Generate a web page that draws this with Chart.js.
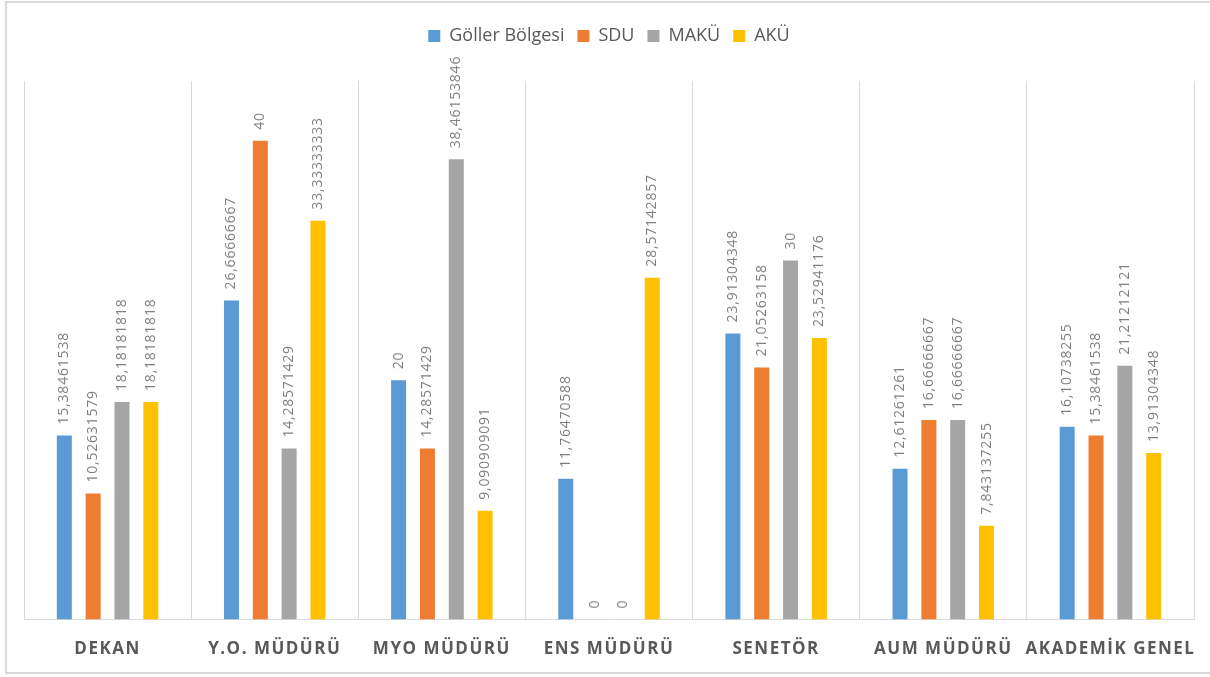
<!DOCTYPE html>
<html>
<head>
<meta charset="utf-8">
<script src="https://cdn.jsdelivr.net/npm/chart.js@4.4.1/dist/chart.umd.min.js"></script>
<style>
  html, body { margin: 0; padding: 0; background: #ffffff; overflow: hidden; }
  #wrap { position: relative; width: 1210px; height: 677px; }
  #frame { position: absolute; left: 5px; top: 1px; width: 1230px; height: 673px; border: 2px solid #d9d9d9; box-sizing: border-box; pointer-events: none; }
</style>
</head>
<body>
<div id="wrap">
  <canvas id="c" width="1210" height="677"></canvas>
  <div id="frame"></div>
</div>
<script>
const categories = ['DEKAN', 'Y.O. MÜDÜRÜ', 'MYO MÜDÜRÜ', 'ENS MÜDÜRÜ', 'SENETÖR', 'AUM MÜDÜRÜ', 'AKADEMİK GENEL'];
const seriesNames = ['Göller Bölgesi', 'SDU', 'MAKÜ', 'AKÜ'];
const gollerBolgesi = [15.38461538, 26.66666667, 20, 11.76470588, 23.91304348, 12.61261261, 16.10738255];
const sdu = [10.52631579, 40, 14.28571429, 0, 21.05263158, 16.66666667, 15.38461538];
const maku = [18.18181818, 14.28571429, 38.46153846, 0, 30, 16.66666667, 21.21212121];
const aku = [18.18181818, 33.33333333, 9.090909091, 28.57142857, 23.52941176, 7.843137255, 13.91304348];
const yMin = 0;
const yMax = 45;

const colors = ['#5B9BD5', '#ED7D31', '#A5A5A5', '#FFC000'];
const seriesData = [gollerBolgesi, sdu, maku, aku];

const valueLabels = {
  id: 'valueLabels',
  afterDatasetsDraw(chart) {
    const ctx = chart.ctx;
    ctx.save();
    ctx.font = '14px "Open Sans", sans-serif';
    ctx.fillStyle = '#7f7f7f';
    ctx.textAlign = 'left';
    ctx.textBaseline = 'middle';
    ctx.letterSpacing = '0.8px';
    chart.data.datasets.forEach((ds, di) => {
      const meta = chart.getDatasetMeta(di);
      meta.data.forEach((bar, i) => {
        const v = ds.data[i];
        const txt = String(v).replace('.', ',');
        ctx.save();
        ctx.translate(bar.x, bar.y - 11);
        ctx.rotate(-Math.PI / 2);
        ctx.fillText(txt, 0, 0);
        ctx.restore();
      });
    });
    ctx.restore();
  }
};

const layoutTweaks = {
  id: 'layoutTweaks',
  beforeLayout(chart) {
    const lg = chart.legend;
    if (lg && !lg._patched) {
      const f = lg.fit;
      lg.fit = function () { f.call(this); this.height += 26; };
      lg._patched = true;
    }
  },
  beforeDraw(chart) {
    const sc = chart.scales.x;
    if (sc && !sc._spacedPatched) {
      const orig = sc.drawLabels;
      sc.drawLabels = function (area) {
        const ctx = this.ctx;
        ctx.save();
        ctx.letterSpacing = '1.5px';
        orig.call(this, area);
        ctx.restore();
      };
      sc._spacedPatched = true;
    }
  }
};

new Chart(document.getElementById('c'), {
  type: 'bar',
  data: {
    labels: categories,
    datasets: seriesNames.map((n, i) => ({
      label: n,
      data: seriesData[i],
      backgroundColor: colors[i],
      borderWidth: 0,
      categoryPercentage: 0.69,
      barPercentage: 0.52
    }))
  },
  options: {
    responsive: false,
    animation: false,
    devicePixelRatio: 1,
    layout: { padding: { left: 24, right: 16, top: 14, bottom: -1 } },
    plugins: {
      legend: {
        position: 'top',
        labels: {
          boxWidth: 12,
          boxHeight: 12,
          padding: 13,
          color: '#595959',
          font: { family: '"Open Sans", sans-serif', size: 18 }
        }
      },
      tooltip: { enabled: false }
    },
    scales: {
      x: {
        grid: { offset: true, color: '#d9d9d9', drawTicks: false, lineWidth: 1 },
        border: { display: true, color: '#d9d9d9', width: 1 },
        ticks: {
          color: '#595959',
          padding: 19,
          maxRotation: 0,
          autoSkip: false,
          font: { family: '"Open Sans", sans-serif', size: 17, weight: 'bold' }
        }
      },
      y: {
        display: false,
        min: yMin,
        max: yMax
      }
    }
  },
  plugins: [valueLabels, layoutTweaks]
});
</script>
</body>
</html>
